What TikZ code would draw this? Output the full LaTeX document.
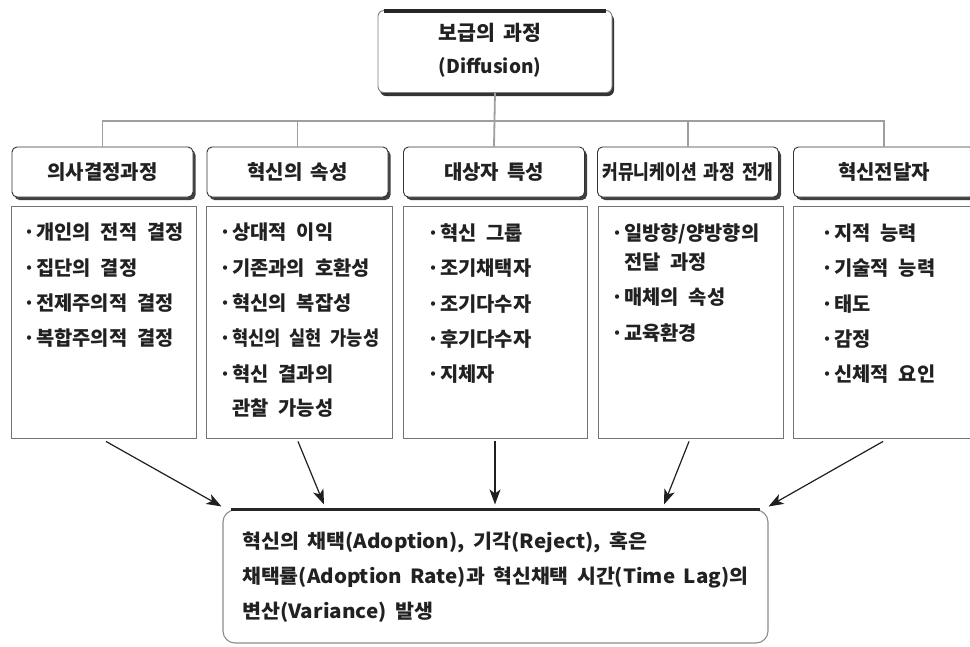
\documentclass[tikz,border=0pt]{standalone}
\usepackage{fontspec}
\newfontfamily\kr{Noto Sans CJK KR}
\usetikzlibrary{arrows.meta,shadows,calc}
\newcommand\bul{\makebox[13pt][l]{·}}
\newcommand\hdrfont{\kr\bfseries\fontsize{20}{22}\selectfont\spaceskip 8pt\relax}
\newcommand\itmfont{\kr\bfseries\fontsize{19.8}{21}\selectfont\spaceskip 10pt\relax}
\newcommand\botfont{\kr\bfseries\fontsize{19.5}{22}\selectfont\spaceskip 8pt\relax}
\newcommand\topfontA{\kr\bfseries\fontsize{20.5}{22}\selectfont\spaceskip 8pt\relax}
\newcommand\topfontB{\kr\bfseries\fontsize{19}{22}\selectfont}
\begin{document}
\begin{tikzpicture}[x=1pt,y=-1pt, font=\kr\bfseries, text=black!87,
  conn/.style={draw=black!38, line width=1.8pt},
  topbox/.style={draw=black!50, line width=0.9pt, fill=white, rounded corners=6pt,
    minimum width=234pt, minimum height=82pt, inner sep=0pt,
    drop shadow={shadow xshift=2pt, shadow yshift=-3.5pt, fill=black!80, opacity=1}},
  hdr/.style={draw=black!80, line width=0.9pt, fill=white, rounded corners=5pt,
    minimum width=181pt, minimum height=50pt, inner sep=0pt, font=\hdrfont,
    drop shadow={shadow xshift=2.5pt, shadow yshift=-3pt, fill=black!75, opacity=1}},
  cbox/.style={draw=black!55, line width=0.9pt, minimum height=232pt, inner sep=0pt},
  itm/.style={anchor=west, inner sep=0pt, text height=0.8em, text depth=0.12em, font=\itmfont},
  btxt/.style={anchor=west, inner sep=0pt, text height=0.8em, text depth=0.12em, font=\botfont},
  bigtxt/.style={inner sep=0pt, text height=0.8em, text depth=0.12em},
  botbox/.style={draw=black!45, line width=1.1pt, fill=white, rounded corners=12pt,
    minimum width=545pt, minimum height=133pt, inner sep=0pt},
  thickedge/.style={draw=black!85, line width=3.8pt},
  arr/.style={draw=black!88, line width=1.2pt, -{Stealth[length=15pt,width=11pt,inset=4pt]}}
]
\useasboundingbox (0,0) rectangle (970,646);
\clip (0,0) rectangle (970,646);

% top box
\node[topbox] (top) at (495,51.5) {};
\draw[thickedge] ([xshift=6pt,yshift=-1pt]top.north west) -- ([xshift=-6pt,yshift=-1pt]top.north east);
\node[bigtxt, font=\topfontA] (tt1) at (490,37) {보급의 과정};
\node[bigtxt, font=\topfontB] (tt2) at (490,70) {(Diffusion)};

% headers
\node[hdr] (h1) at (102.5,172) {의사결정과정};
\node[hdr] (h2) at (297.5,172) {혁신의 속성};
\node[hdr] (h3) at (494,172) {대상자 특성};
\node[hdr] (h4) at (688,172) {\resizebox{171pt}{\height}{커뮤니케이션 과정 전개}};
\node[hdr] (h5) at (884,172) {혁신전달자};

% connectors
\coordinate (bus) at (495,121);
\draw[conn] (top.south) -- (h3.north);
\draw[conn] (h1.north) |- (bus) -| (h5.north);
\draw[conn] (h2.north) -- (h2.north |- bus);
\draw[conn] (h4.north) -- (h4.north |- bus);

% content boxes
\node[cbox, minimum width=185pt] (c1) at (103.5,322) {};
\node[cbox, minimum width=186pt] (c2) at (299,322) {};
\node[cbox, minimum width=184pt] (c3) at (495,322) {};
\node[cbox, minimum width=185pt] (c4) at (690.5,322) {};
\node[cbox, minimum width=185pt] (c5) at (885.5,322) {};

% box 1
\node[itm] (i11) at (23,236) {\bul 개인의 전적 결정};
\node[itm] (i12) at (23,272) {\bul 집단의 결정};
\node[itm] (i13) at (23,307) {\bul 전제주의적 결정};
\node[itm] (i14) at (23,342) {\bul 복합주의적 결정};
% box 2
\node[itm] (i21) at (219,236) {\bul 상대적 이익};
\node[itm] (i22) at (219,272) {\bul 기존과의 호환성};
\node[itm] (i23) at (219,307) {\bul 혁신의 복잡성};
\node[itm] (i24) at (219,342) {\bul \resizebox{147pt}{\height}{혁신의 실현 가능성}};
\node[itm] (i25) at (219,378) {\bul 혁신 결과의};
\node[itm] (i26) at (232,412) {관찰 가능성};
% box 3
\node[itm] (i31) at (427,237) {\bul 혁신 그룹};
\node[itm] (i32) at (427,272) {\bul 조기채택자};
\node[itm] (i33) at (427,308) {\bul 조기다수자};
\node[itm] (i34) at (427,343) {\bul 후기다수자};
\node[itm] (i35) at (427,378) {\bul 지체자};
% box 4
\node[itm] (i41) at (611,237) {\bul 일방향/양방향의};
\node[itm] (i42) at (624,266) {전달 과정};
\node[itm] (i43) at (611,301) {\bul 매체의 속성};
\node[itm] (i44) at (611,337) {\bul 교육환경};
% box 5
\node[itm] (i51) at (821,237) {\bul 지적 능력};
\node[itm] (i52) at (821,272) {\bul 기술적 능력};
\node[itm] (i53) at (821,308) {\bul 태도};
\node[itm] (i54) at (821,343) {\bul 감정};
\node[itm] (i55) at (821,378) {\bul 신체적 요인};

% bottom box
\node[botbox] (bot) at (495.5,576.5) {};
\draw[thickedge] ([xshift=9pt]bot.north west) -- ([xshift=-9pt]bot.north east);
\node[btxt] (b1) at (242,545) {\resizebox{405pt}{\height}{혁신의 채택(Adoption), 기각(Reject), 혹은}};
\node[btxt] (b2) at (242,580) {\resizebox{506pt}{\height}{채택률(Adoption Rate)과 혁신채택 시간(Time Lag)의}};
\node[btxt] (b3) at (242,615) {\resizebox{191pt}{\height}{변산(Variance) 발생}};

% arrows
\draw[arr] ([xshift=2.5pt,yshift=-3pt]c1.south) -- ([xshift=-1pt,yshift=3pt]bot.north west);
\draw[arr] ([xshift=-1pt,yshift=-3pt]c2.south) -- ([xshift=-171.5pt,yshift=5pt]bot.north);
\draw[arr] ([yshift=-3pt]c3.south) -- ([xshift=-0.5pt,yshift=5pt]bot.north);
\draw[arr] ([xshift=-1.5pt,yshift=-3pt]c4.south) -- ([xshift=168.5pt,yshift=5pt]bot.north);
\draw[arr] ([xshift=-2.5pt,yshift=-3pt]c5.south) -- ([yshift=3pt]bot.north east);
\end{tikzpicture}
\end{document}
